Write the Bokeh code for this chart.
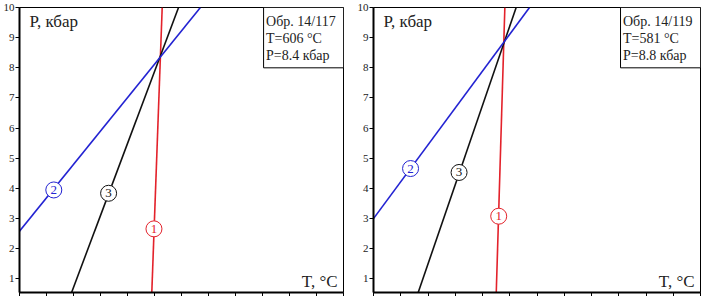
from bokeh.plotting import figure
from bokeh.layouts import row
from bokeh.models import FixedTicker, Range1d, ColumnDataSource, CustomJSTickFormatter
from bokeh.core.properties import value
from bokeh.embed import file_html
from bokeh.resources import INLINE

SERIF = "Liberation Serif"
RED = "#e3222b"
BLUE = "#2323d2"
BLACK = "#111111"

# y range (pressure, kbar)
P_MIN, P_MAX = 0.55, 10.0
P_TICKS = [1, 2, 3, 4, 5, 6, 7, 8, 9, 10]

# ---- Panel 1: sample 14/117 ----
s1_name = "Обр. 14/117"
s1_T, s1_P = 606, 8.4
s1_T0, s1_T1 = 502, 742
s1_red_T = [600.0, 607.7]
s1_red_P = [0.55, 10.0]
s1_blue_T = [502.0, 636.0]
s1_blue_P = [2.58, 10.0]
s1_black_T = [540.6, 619.8]
s1_black_P = [0.55, 10.0]
s1_lab_T = [601.6, 527.4, 568.0]
s1_lab_P = [2.66, 3.95, 3.84]
s1_box_T = 682.8

# ---- Panel 2: sample 14/119 ----
s2_name = "Обр. 14/119"
s2_T, s2_P = 581, 8.8
s2_T0, s2_T1 = 486, 726
s2_red_T = [576.1, 582.4]
s2_red_P = [0.55, 10.0]
s2_blue_T = [486.0, 600.5]
s2_blue_P = [3.0, 10.0]
s2_black_T = [518.8, 590.7]
s2_black_P = [0.55, 10.0]
s2_lab_T = [577.9, 513.2, 548.8]
s2_lab_P = [3.08, 4.66, 4.53]
s2_box_T = 667.3

lab_text = ["1", "2", "3"]
lab_color = [RED, BLUE, BLACK]
BOX_P = 8.0


def panel(width, mbl, mbr, name, T, P, T0, T1, red, blue, black, labT, labP, boxT):
    p = figure(width=width, height=296, output_backend="svg", toolbar_location=None,
               x_range=Range1d(T0, T1), y_range=Range1d(P_MIN, P_MAX),
               min_border_left=mbl, min_border_right=mbr, min_border_top=7, min_border_bottom=0)
    p.grid.visible = False
    p.outline_line_color = "black"
    p.outline_line_width = 1
    p.background_fill_color = "white"
    p.border_fill_color = "white"

    p.xaxis.ticker = FixedTicker(ticks=list(range(T0, T1 + 1, 20)))
    p.yaxis.ticker = FixedTicker(ticks=P_TICKS)
    for ax in (p.xaxis, p.yaxis):
        ax.axis_line_width = 2
        ax.axis_line_color = "black"
        ax.major_tick_line_color = "black"
        ax.major_tick_in = 0
        ax.major_tick_out = 4
        ax.minor_tick_line_color = None
        ax.major_label_text_font = SERIF
        ax.major_label_text_color = "#222222"
    p.yaxis.major_label_text_font_size = "11px"
    p.yaxis.major_label_standoff = 1
    # T tick labels lie below the visible area in the reference
    p.xaxis.formatter = CustomJSTickFormatter(code="return ''")
    p.xaxis.major_label_text_font_size = "1px"
    p.xaxis.major_label_standoff = 0

    # lines
    p.line(red[0], red[1], line_color=RED, line_width=1.6)
    p.line(black[0], black[1], line_color=BLACK, line_width=1.6)
    p.line(blue[0], blue[1], line_color=BLUE, line_width=1.6)

    # numbered circle labels
    src = ColumnDataSource(dict(x=labT, y=labP, t=lab_text, c=lab_color))
    p.scatter("x", "y", source=src, size=16, fill_color="white", line_color="c", line_width=1)
    p.text("x", "y", text="t", source=src, text_color="c", text_font=value(SERIF),
           text_font_size="13px", text_align="center", text_baseline="middle")

    # info box
    p.quad(left=[boxT], right=[T1], bottom=[BOX_P], top=[P_MAX], fill_color="white",
           line_color="black", line_width=1)
    dx = (T1 - T0) / 328 * 2.5
    p.text([boxT + dx] * 3, [9.53, 8.98, 8.42],
           text=[name, f"T={T} °C", f"P={P} кбар"],
           text_font=value(SERIF), text_font_size="14px", text_color="#222222",
           text_align="left", text_baseline="middle")

    # axis titles inside the frame
    px = (T1 - T0) / 328
    p.text([T0 + 10 * px], [9.53], text=["P, кбар"], text_font=value(SERIF),
           text_font_size="17px", text_color="#222222", text_align="left", text_baseline="middle")
    p.text([T1 - 6 * px], [0.93], text=["T, °C"], text_font=value(SERIF),
           text_font_size="17px", text_color="#222222", text_align="right", text_baseline="middle")
    return p


p1 = panel(350, 0, 7, s1_name, s1_T, s1_P, s1_T0, s1_T1,
           (s1_red_T, s1_red_P), (s1_blue_T, s1_blue_P), (s1_black_T, s1_black_P),
           s1_lab_T, s1_lab_P, s1_box_T)
p2 = panel(354, 23, 4, s2_name, s2_T, s2_P, s2_T0, s2_T1,
           (s2_red_T, s2_red_P), (s2_blue_T, s2_blue_P), (s2_black_T, s2_black_P),
           s2_lab_T, s2_lab_P, s2_box_T)

layout = row(p1, p2)
open("out.html", "w").write(file_html(layout, INLINE))
